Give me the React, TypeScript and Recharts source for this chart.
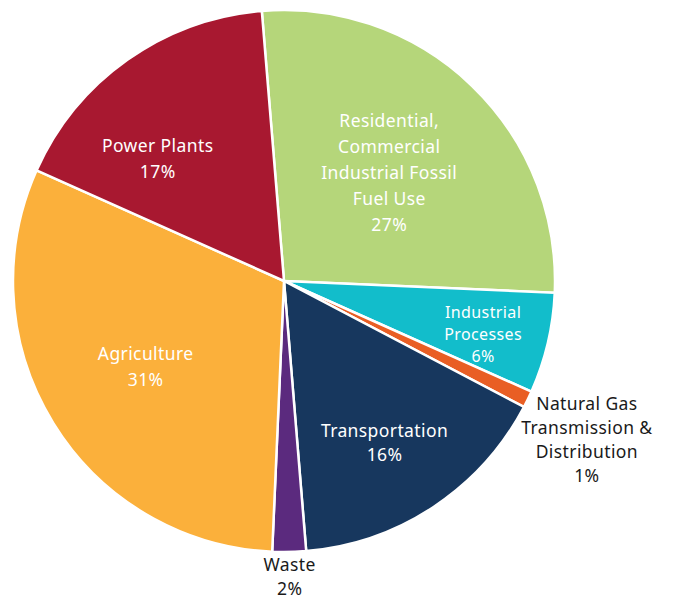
import { PieChart, Pie, Cell } from "recharts";

const sectors = [
  "Residential, Commercial Industrial Fossil Fuel Use",
  "Industrial Processes",
  "Natural Gas Transmission & Distribution",
  "Transportation",
  "Waste",
  "Agriculture",
  "Power Plants",
];
const shares = [27, 6, 1, 16, 2, 31, 17];
const labelLines = [
  ["Residential,", "Commercial", "Industrial Fossil", "Fuel Use"],
  ["Industrial", "Processes"],
  ["Natural Gas", "Transmission &", "Distribution"],
  ["Transportation"],
  ["Waste"],
  ["Agriculture"],
  ["Power Plants"],
];
const colors = ["#b5d67a", "#12bdcb", "#e95e24", "#17375e", "#5b2a7e", "#fbb03b", "#a81830"];

const data = sectors.map((name, i) => ({ name, value: shares[i] }));

// where each label sits: radius as a share of the pie radius, angle nudge, text colour
const labelPlace = [
  { r: 0.56, turn: 0, color: "#fff", lh: 26, fs: 17.5 },
  { r: 0.76, turn: -1.5, color: "#fff", lh: 22, fs: 16 },
  { r: 1.26, turn: -1.6, color: "#1a1a1a", lh: 24, fs: 17.5 },
  { r: 0.7, turn: -1.5, color: "#fff", lh: 24.5, fs: 17.5 },
  { r: 1.088, turn: 0, color: "#1a1a1a", lh: 24, fs: 17.5 },
  { r: 0.6, turn: 0, color: "#fff", lh: 26, fs: 17.5 },
  { r: 0.65, turn: 10.5, color: "#fff", lh: 26, fs: 17.5 },
];

const RAD = Math.PI / 180;

const SliceLabel = (props: any) => {
  const { cx, cy, midAngle, outerRadius, index, value } = props;
  const p = labelPlace[index];
  const a = (midAngle + p.turn) * RAD;
  const x = cx + outerRadius * p.r * Math.cos(a);
  const y = cy - outerRadius * p.r * Math.sin(a);
  const lines = [...labelLines[index], `${value}%`];
  const top = y - ((lines.length - 1) * p.lh) / 2;
  return (
    <text
      x={x}
      y={top}
      fill={p.color}
      textAnchor="middle"
      dominantBaseline="central"
      fontSize={p.fs}
      letterSpacing={0.4}
      fontFamily="'Noto Sans', sans-serif"
    >
      {lines.map((t, j) => (
        <tspan key={j} x={x} y={top + j * p.lh}>
          {t}
        </tspan>
      ))}
    </text>
  );
};

export default function App() {
  return (
    <div style={{ position: "absolute", left: 0, top: 0, width: 673, height: 600, background: "#fff" }}>
      <PieChart width={673} height={600}>
        <Pie
          data={data}
          dataKey="value"
          nameKey="name"
          cx={279}
          cy={276}
          outerRadius={271}
          startAngle={94.7}
          endAngle={-265.3}
          stroke="#fff"
          strokeWidth={2.5}
          label={SliceLabel}
          labelLine={false}
          isAnimationActive={false}
        >
          {data.map((d, i) => (
            <Cell key={d.name} fill={colors[i]} />
          ))}
        </Pie>
      </PieChart>
    </div>
  );
}
